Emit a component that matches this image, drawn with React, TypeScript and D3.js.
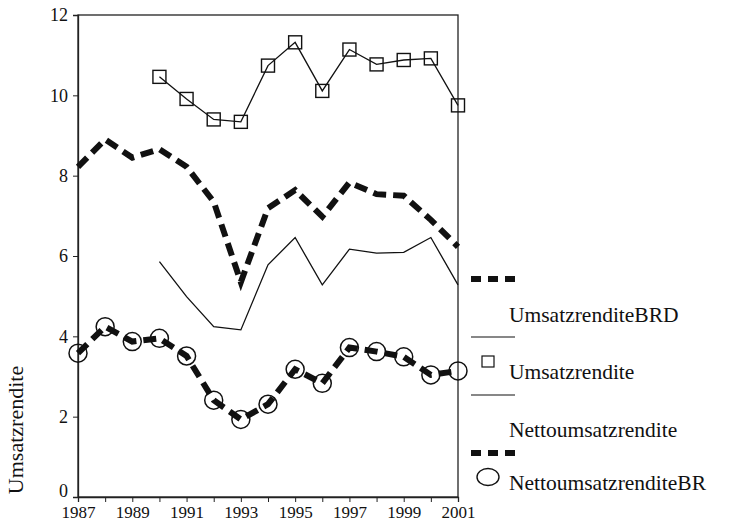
import { useRef, useEffect } from "react";
import * as d3 from "d3";

const years = [1987, 1988, 1989, 1990, 1991, 1992, 1993, 1994, 1995, 1996, 1997, 1998, 1999, 2000, 2001];
// values per year, null where the series has no data
const umsatzrenditeBRD = [8.22, 8.9, 8.45, 8.66, 8.22, 7.35, 5.35, 7.19, 7.64, 6.98, 7.83, 7.54, 7.5, 6.9, 6.23];
const umsatzrendite = [null, null, null, 10.46, 9.91, 9.4, 9.34, 10.74, 11.32, 10.11, 11.14, 10.77, 10.88, 10.92, 9.75];
const nettoumsatzrendite = [null, null, null, 5.86, 4.99, 4.24, 4.16, 5.78, 6.46, 5.28, 6.17, 6.07, 6.09, 6.46, 5.28];
const nettoumsatzrenditeBR = [3.58, 4.24, 3.87, 3.95, 3.51, 2.41, 1.93, 2.31, 3.18, 2.83, 3.72, 3.62, 3.49, 3.04, 3.14];
const yTicks = [0, 2, 4, 6, 8, 10, 12];
const xTicks = [1987, 1989, 1991, 1993, 1995, 1997, 1999, 2001];
const legendLabels = ["UmsatzrenditeBRD", "Umsatzrendite", "Nettoumsatzrendite", "NettoumsatzrenditeBR"];

const W = 745;
const H = 523;
const FONT = "'Liberation Serif', 'Times New Roman', serif";

export default function App() {
  const svgRef = useRef<SVGSVGElement>(null);

  useEffect(() => {
    if (!svgRef.current) return;
    const svg = d3.select(svgRef.current);
    svg.selectAll("*").remove();

    const left = 78, right = 458, top = 15, bottom = 497;
    const x = d3.scaleLinear().domain([1987, 2001]).range([left, right]);
    const y = d3.scaleLinear().domain([0, 12]).range([bottom, top]);

    const g = svg.append("g").style("font-family", FONT);

    // frame
    g.append("rect")
      .attr("x", left).attr("y", top)
      .attr("width", right - left).attr("height", bottom - top)
      .attr("fill", "none").attr("stroke", "#222").attr("stroke-width", 1.3);

    // y axis
    const ya = g.append("g")
      .attr("transform", `translate(${left},0)`)
      .call(d3.axisLeft(y).tickValues(yTicks).tickFormat(d3.format("d")).tickSizeOuter(0).tickSize(5).tickPadding(5));
    ya.selectAll("text").attr("fill", "#111").style("font-size", "18px").style("font-family", FONT);
    // the 0 label sits a bit above its tick
    ya.selectAll<SVGTextElement, number>("text").filter((d) => d === 0).attr("y", -6);
    ya.select(".domain").attr("stroke", "#222").attr("stroke-width", 1.3);
    ya.selectAll(".tick line").attr("stroke", "#222");

    // x axis
    const xa = g.append("g")
      .attr("transform", `translate(0,${bottom})`)
      .call(d3.axisBottom(x).tickValues(years).tickFormat((d) => (xTicks.includes(d as number) ? String(d) : "")).tickSizeOuter(0).tickSize(5).tickPadding(4));
    xa.selectAll("text").attr("fill", "#111").style("font-size", "17px").style("font-family", FONT);
    xa.select(".domain").attr("stroke", "#222").attr("stroke-width", 1.3);
    xa.selectAll(".tick line").attr("stroke", "#222");

    // y axis title
    g.append("text")
      .attr("transform", `translate(23,430) rotate(-90)`)
      .attr("text-anchor", "middle")
      .attr("fill", "#111")
      .style("font-size", "22px")
      .text("Umsatzrendite");

    const line = d3.line<number | null>()
      .defined((d) => d !== null)
      .x((_d, i) => x(years[i]))
      .y((d) => y(d as number));

    const thick = { w: 6, dash: "13,7" };

    // dashed thick series
    g.append("path").datum(umsatzrenditeBRD).attr("d", line)
      .attr("fill", "none").attr("stroke", "#111")
      .attr("stroke-width", thick.w).attr("stroke-dasharray", thick.dash);

    // thin series
    g.append("path").datum(nettoumsatzrendite).attr("d", line)
      .attr("fill", "none").attr("stroke", "#111").attr("stroke-width", 1.3);

    // square series
    g.append("path").datum(umsatzrendite).attr("d", line)
      .attr("fill", "none").attr("stroke", "#111").attr("stroke-width", 1.3);
    g.selectAll("rect.sq")
      .data(umsatzrendite.map((v, i) => ({ v, yr: years[i] })).filter((d) => d.v !== null))
      .join("rect")
      .attr("class", "sq")
      .attr("x", (d) => x(d.yr) - 6.5).attr("y", (d) => y(d.v as number) - 6.5)
      .attr("width", 13).attr("height", 13)
      .attr("fill", "none").attr("stroke", "#111").attr("stroke-width", 1.4);

    // circle series
    g.append("path").datum(nettoumsatzrenditeBR).attr("d", line)
      .attr("fill", "none").attr("stroke", "#111")
      .attr("stroke-width", thick.w).attr("stroke-dasharray", thick.dash);
    g.selectAll("circle.pt")
      .data(nettoumsatzrenditeBR.map((v, i) => ({ v, yr: years[i] })))
      .join("circle")
      .attr("class", "pt")
      .attr("cx", (d) => x(d.yr)).attr("cy", (d) => y(d.v))
      .attr("r", 9)
      .attr("fill", "none").attr("stroke", "#111").attr("stroke-width", 1.5);

    // legend
    const lx0 = 471, lx1 = 515, tx = 509;
    const lg = g.append("g");
    lg.append("line").attr("x1", lx0).attr("x2", lx1).attr("y1", 279).attr("y2", 279)
      .attr("stroke", "#111").attr("stroke-width", thick.w).attr("stroke-dasharray", "10,7");
    lg.append("line").attr("x1", lx0).attr("x2", lx1).attr("y1", 337).attr("y2", 337)
      .attr("stroke", "#111").attr("stroke-width", 1.2);
    lg.append("rect").attr("x", 482).attr("y", 356).attr("width", 12).attr("height", 11)
      .attr("fill", "none").attr("stroke", "#111").attr("stroke-width", 1.2);
    lg.append("line").attr("x1", lx0).attr("x2", lx1).attr("y1", 395).attr("y2", 395)
      .attr("stroke", "#111").attr("stroke-width", 1.2);
    lg.append("line").attr("x1", lx0).attr("x2", lx1).attr("y1", 453).attr("y2", 453)
      .attr("stroke", "#111").attr("stroke-width", thick.w).attr("stroke-dasharray", "10,7");
    lg.append("ellipse").attr("cx", 488).attr("cy", 477).attr("rx", 11).attr("ry", 8.5)
      .attr("fill", "none").attr("stroke", "#111").attr("stroke-width", 1.4);

    const baselines = [322, 379, 437, 490];
    lg.selectAll("text")
      .data(legendLabels)
      .join("text")
      .attr("x", tx)
      .attr("y", (_d, i) => baselines[i])
      .attr("fill", "#111")
      .style("font-size", "21.5px")
      .text((d) => d);
  }, []);

  return (
    <svg
      ref={svgRef}
      width={W}
      height={H}
      style={{ position: "absolute", left: 0, top: 0, background: "#fff" }}
    />
  );
}
